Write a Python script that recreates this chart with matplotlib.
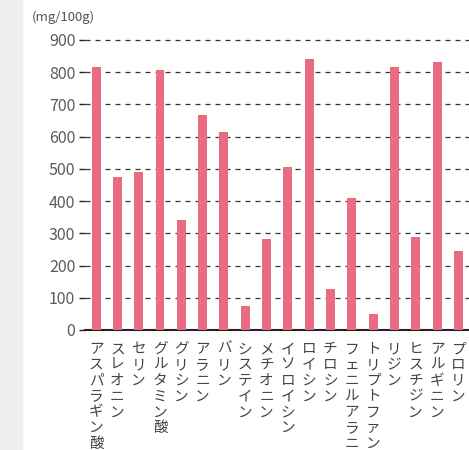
import matplotlib.pyplot as plt
from matplotlib.patches import Rectangle

plt.rcParams['font.family'] = ['Noto Sans CJK JP', 'DejaVu Sans']

amino_acids = ['アスパラギン酸', 'スレオニン', 'セリン', 'グルタミン酸', 'グリシン',
               'アラニン', 'バリン', 'システイン', 'メチオニン', 'イソロイシン',
               'ロイシン', 'チロシン', 'フェニルアラニン', 'トリプトファン', 'リジン',
               'ヒスチジン', 'アルギニン', 'プロリン']
values = [816, 475, 490, 807, 341, 667, 614, 75, 283, 506,
          841, 128, 410, 50, 816, 289, 832, 245]
y_ticks = [0, 100, 200, 300, 400, 500, 600, 700, 800, 900]
unit_label = '(mg/100g)'

W, H = 469, 450
fig = plt.figure(figsize=(W / 100, H / 100), dpi=100)
fig.patches.append(Rectangle((0, 0), 22 / W, 1, transform=fig.transFigure,
                             color='#eeeeee', zorder=0))

ymax = 920
ax_h = 290 * ymax / 900
ax = fig.add_axes([85 / W, 1 - 330 / H, 1 - 85 / W, ax_h / H])
ax.patch.set_alpha(0)

x = range(len(values))
ax.bar(x, values, width=0.42, color='#ea6c82', zorder=3)

ax.set_xlim(-0.52, 17.5)
ax.set_ylim(0, ymax)
ax.set_yticks(y_ticks)
ax.tick_params(axis='y', length=4, width=1, color='#222222', labelcolor='#5a5a5a',
               labelsize=11.5, pad=3)
ax.tick_params(axis='x', length=0, labelbottom=False)
for t in y_ticks[1:]:
    ax.axhline(t, color='#333333', lw=0.9, linestyle=(0, (4, 4)), zorder=1)

for s in ['left', 'right', 'top']:
    ax.spines[s].set_visible(False)
ax.spines['bottom'].set_linewidth(1.5)
ax.spines['bottom'].set_color('#222222')

# vertical labels, one character per line
for i, name in enumerate(amino_acids):
    ax.text(i, -38, '\n'.join(name), ha='center', va='top', fontsize=10.5,
            color='#444444', linespacing=1.16, clip_on=False)

fig.text(32 / W, 1 - 17 / H, unit_label, fontsize=9.5, color='#555555',
         ha='left', va='center')

fig.savefig('out.png', dpi=100)
